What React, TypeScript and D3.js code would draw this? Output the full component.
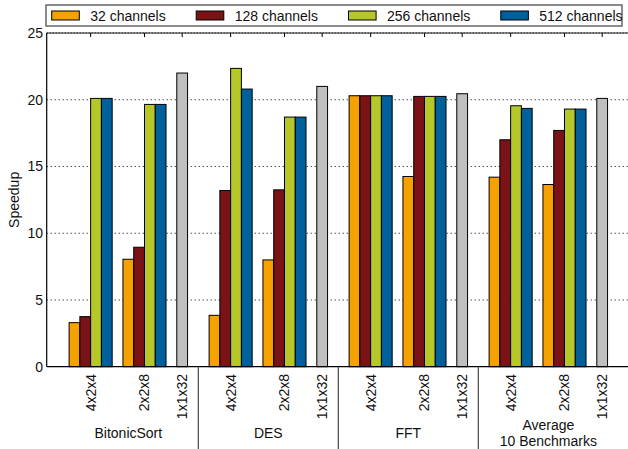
import React from "react";
import * as d3 from "d3";

// ---- data ----
const benchmarks = ["BitonicSort", "DES", "FFT", "Average\n10 Benchmarks"];
const configs = ["4x2x4", "2x2x8", "1x1x32"];
const seriesNames = ["32 channels", "128 channels", "256 channels", "512 channels"];
const seriesColors = ["#f5a100", "#7a1315", "#b6c829", "#00609c"];
const singleColor = "#bfbfbf";
// values per benchmark: [4x2x4, 2x2x8]
const ch32 = [[3.3, 8.05], [3.85, 8.0], [20.3, 14.25], [14.2, 13.65]];
const ch128 = [[3.75, 8.95], [13.2, 13.25], [20.3, 20.25], [17.0, 17.7]];
const ch256 = [[20.1, 19.65], [22.35, 18.7], [20.3, 20.25], [19.55, 19.3]];
const ch512 = [[20.1, 19.65], [20.8, 18.7], [20.3, 20.25], [19.35, 19.3]];
const single1x1x32 = [22.0, 21.0, 20.45, 20.1];
const yTicks = [0, 5, 10, 15, 20, 25];
const gridTicks = [5, 10, 15, 20];

const allSeries = [ch32, ch128, ch256, ch512];

const W = 628;
const H = 449;
const left = 46.7;
const top = 33;
const bottom = 366.7;
const slotsPerGroup = 13;
const slotW = 140 / 13;

export default function App() {
  const x = d3
    .scaleLinear()
    .domain([-1.08, benchmarks.length * slotsPerGroup + 1.08])
    .range([left, left + (benchmarks.length * slotsPerGroup + 2.16) * slotW]);
  const y = d3.scaleLinear().domain([0, 25]).range([bottom, top]);

  const font = "'Liberation Sans', Arial, Helvetica, sans-serif";

  // legend layout via text measuring
  const canvas = typeof document !== "undefined" ? document.createElement("canvas") : null;
  const ctx = canvas ? canvas.getContext("2d") : null;
  if (ctx) ctx.font = `14px ${font}`;
  const legendItems: { x: number; name: string; color: string }[] = [];
  let lx = 51.7;
  seriesNames.forEach((n, i) => {
    legendItems.push({ x: lx, name: n, color: seriesColors[i] });
    const tw = ctx ? ctx.measureText(n).width : n.length * 7;
    lx = lx + 38.5 + tw + 30.5;
  });

  const bars: JSX.Element[] = [];
  const ticks: { pos: number; label: string }[] = [];
  benchmarks.forEach((b, g) => {
    const g0 = g * slotsPerGroup;
    [0, 1].forEach((c) => {
      const start = g0 + 1 + c * 5;
      allSeries.forEach((s, si) => {
        const v = s[g][c];
        bars.push(
          <rect
            key={`b${g}-${c}-${si}`}
            x={x(start + si)}
            y={y(v)}
            width={x(start + si + 1) - x(start + si)}
            height={y(0) - y(v)}
            fill={seriesColors[si]}
            stroke="#000"
            strokeWidth={1}
          />
        );
      });
      ticks.push({ pos: start + 2, label: configs[c] });
    });
    const v = single1x1x32[g];
    bars.push(
      <rect
        key={`s${g}`}
        x={x(g0 + 11)}
        y={y(v)}
        width={x(g0 + 12) - x(g0 + 11)}
        height={y(0) - y(v)}
        fill={singleColor}
        stroke="#000"
        strokeWidth={1}
      />
    );
    ticks.push({ pos: g0 + 11.5, label: configs[2] });
  });

  return (
    <svg
      width={W}
      height={H}
      style={{ position: "absolute", left: 0, top: 0, background: "#fff" }}
      fontFamily={font}
    >
      <rect x={0} y={0} width={W} height={H} fill="#fff" />
      {/* grid */}
      {gridTicks.map((t) => (
        <line
          key={`g${t}`}
          x1={left}
          x2={W}
          y1={y(t)}
          y2={y(t)}
          stroke="#000"
          strokeWidth={1}
          strokeDasharray="1,3"
        />
      ))}
      {/* top border */}
      <line x1={left} x2={W} y1={top} y2={top} stroke="#222" strokeWidth={1} />
      <line x1={left} x2={W} y1={top} y2={top} stroke="#000" strokeWidth={1} strokeDasharray="1,2" />
      {ticks.map((t, i) => (
        <line key={`tt${i}`} x1={x(t.pos)} x2={x(t.pos)} y1={top} y2={top + 4} stroke="#000" />
      ))}
      {bars}
      {/* axes */}
      <line x1={left} x2={left} y1={top} y2={bottom} stroke="#000" strokeWidth={1.2} />
      <line x1={left} x2={W} y1={bottom} y2={bottom} stroke="#000" strokeWidth={1.2} />
      {yTicks.map((t) => (
        <text key={`yl${t}`} x={43} y={y(t)} dy="0.35em" textAnchor="end" fontSize={14} fill="#111">
          {t}
        </text>
      ))}
      <text
        transform={`translate(19,${(top + bottom) / 2}) rotate(-90)`}
        textAnchor="middle"
        fontSize={14}
        fill="#111"
      >
        Speedup
      </text>
      {ticks.map((t, i) => (
        <text
          key={`xl${i}`}
          transform={`translate(${x(t.pos)},374) rotate(-90)`}
          textAnchor="end"
          dy="0.35em"
          fontSize={14}
          fill="#111"
        >
          {t.label}
        </text>
      ))}
      {/* separators */}
      {benchmarks.slice(1).map((_, i) => (
        <line
          key={`sep${i}`}
          x1={x((i + 1) * slotsPerGroup)}
          x2={x((i + 1) * slotsPerGroup)}
          y1={bottom}
          y2={H}
          stroke="#555"
          strokeWidth={1.3}
        />
      ))}
      {benchmarks.map((b, g) => {
        const lines = b.split("\n");
        const cx = x(g * slotsPerGroup + slotsPerGroup / 2);
        const baseY = lines.length === 1 ? 437.5 : 429.5;
        return (
          <text key={`bn${g}`} x={cx} y={baseY} textAnchor="middle" fontSize={14} fill="#111">
            {lines.map((l, li) => (
              <tspan key={li} x={cx} y={baseY + li * 16}>
                {l}
              </tspan>
            ))}
          </text>
        );
      })}
      {/* legend */}
      <rect x={46} y={5} width={576} height={21} fill="#fff" stroke="#666" strokeWidth={1.5} />
      {legendItems.map((it, i) => (
        <g key={`lg${i}`}>
          <rect x={it.x} y={11} width={27.6} height={9} fill={it.color} stroke="#000" strokeWidth={1} />
          <text x={it.x + 38.5} y={20.5} fontSize={14} fill="#111">
            {it.name}
          </text>
        </g>
      ))}
    </svg>
  );
}
